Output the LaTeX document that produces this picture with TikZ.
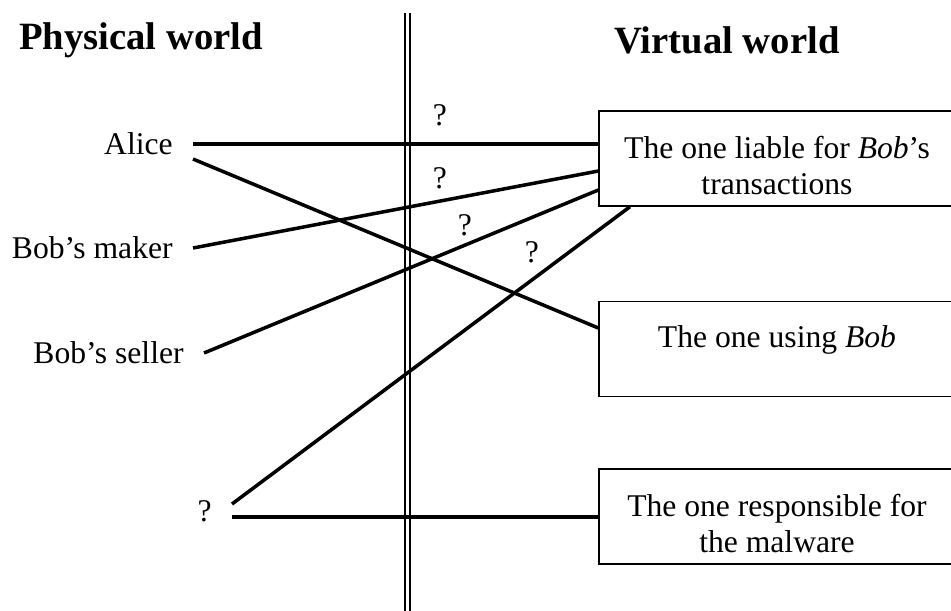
\documentclass[tikz,border=0pt]{standalone}
\usepackage{fontspec}
\setmainfont{Liberation Serif}
\usetikzlibrary{calc, positioning}

\tikzset{
  world/.style={font=\fontsize{22}{26}\selectfont\bfseries},
  who/.style={anchor=east, inner xsep=0.4cm, inner ysep=0pt, font=\fontsize{18}{22}\selectfont},
  role/.style={draw, line width=0.8pt, minimum width=7.12cm, minimum height=1.9cm},
  role text/.style={align=center, inner sep=0pt, font=\fontsize{18}{20.5}\selectfont},
  link/.style={line width=2pt},
  mark q/.style={font=\fontsize{18}{22}\selectfont},
}

\begin{document}
\begin{tikzpicture}[x=0.02cm,y=-0.02cm]
\useasboundingbox (0,0) rectangle (951,610);

\node[world] (physical) at (141,40) {Physical world};
\node[world] (virtual) at (727,40) {Virtual world};
\draw[line width=0.04cm, double distance=0.07cm] (407.5,13) -- (407.5,612);

\node[who] (alice) at (193,144) {Alice};
\node[who] (maker) at (193,248) {Bob's maker};
\node[who] (seller) at (204,353) {Bob's seller};
\node[who] (unknown) at (232,511) {?};

\node[role] (liable) at (777,158.5) {};
\node[role] (using) at (777,349) {};
\node[role] (malware) at (777,516.5) {};
\node[role text] (liable-text) at ($(liable)+(0,7)$) {The one liable for \textit{Bob}'s\\transactions};
\node[role text] (using-text) at ($(using)+(0,-9)$) {The one using \textit{Bob}};
\node[role text] (malware-text) at ($(malware)+(0,7)$) {The one responsible for\\the malware};

\coordinate (unknown-low) at ($(unknown.east)+(0,6)$);
\draw[link] (alice.east) -- (alice.east -| liable.west);
\draw[link] ($(alice.east)+(0,15)$) -- ($(using.west)+(0,-21)$);
\draw[link] (maker.east) -- ($(liable.west)+(0,12.5)$);
\draw[link] (seller.east) -- ($(liable.west)+(0,31.5)$);
\draw[link] ($(unknown.east)+(0,-7)$) -- ($(liable.south)+(-147,0)$);
\draw[link] (unknown-low) -- (unknown-low -| malware.west);

\node[mark q] (q1) at (440,115) {?};
\node[mark q] (q2) at (440,178) {?};
\node[mark q] (q3) at (465,225) {?};
\node[mark q] (q4) at (532,252) {?};
\end{tikzpicture}
\end{document}
